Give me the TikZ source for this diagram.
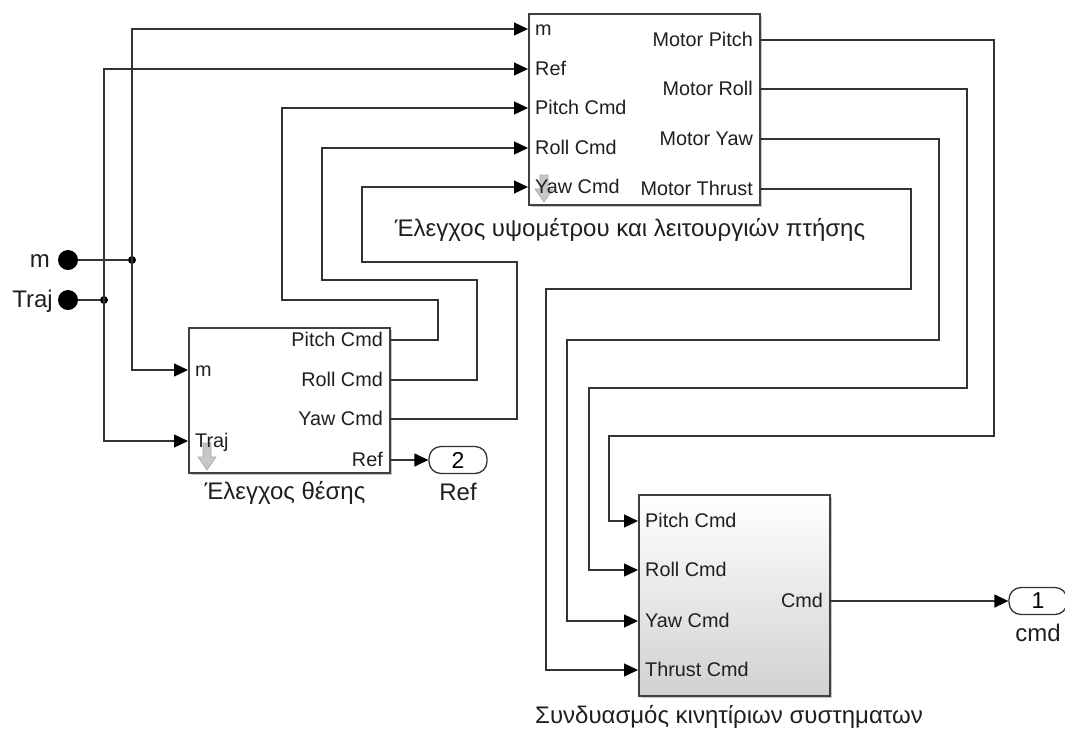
\documentclass[tikz,border=0pt]{standalone}
\usepackage{fontspec}
\setmainfont{Liberation Sans}
\usetikzlibrary{arrows.meta}
\begin{document}
\begin{tikzpicture}[x=1pt,y=-1pt,
  wire/.style={line width=1.3pt, draw=black!80},
  sig/.style={wire, -{Triangle[length=14pt,width=13pt,fill=black,color=black]}},
  block/.style={draw=black!75, line width=1.5pt, fill=white, inner sep=0pt},
  gradblock/.style={draw=black!75, line width=1.5pt, top color=white, bottom color=black!18, inner sep=0pt},
  shadowbox/.style={fill=black!22},
  plbl/.style={font=\fontsize{19.8}{22}\selectfont, text=black!88, inner sep=0pt},
  captext/.style={font=\fontsize{24}{26}\selectfont, text=black!88, inner sep=0pt, anchor=base},
  outport/.style={draw=black!80, line width=1.3pt, fill=white, rounded corners=12pt, minimum width=58pt, minimum height=27pt, inner sep=0pt, font=\fontsize{23}{25}\selectfont},
  inport/.style={circle, fill=black, minimum size=20pt, inner sep=0pt},
  junc/.style={circle, fill=black, minimum size=8pt, inner sep=0pt},
  subsys/.style={fill=black!22, draw=black!35, line width=0.6pt}
]
\useasboundingbox (0,0) rectangle (1065,729);

% ---------- block shadows ----------
\fill[shadowbox] (531,16) rectangle (762,207);
\fill[shadowbox] (191,330) rectangle (392,475);
\fill[shadowbox] (641,497) rectangle (832,698);

% ---------- blocks ----------
\node[block, minimum width=231pt, minimum height=191pt, anchor=north west] (ctl) at (528,13) {};
\node[block, minimum width=201pt, minimum height=145pt, anchor=north west] (pos) at (188,327) {};
\node[gradblock, minimum width=191pt, minimum height=201pt, anchor=north west] (mix) at (638,494) {};

% subsystem icons
\fill[subsys] (540,175) -- (548,175) -- (548,189) -- (553,189) -- (544,202) -- (535,189) -- (540,189) -- cycle;
\fill[subsys] (203,443) -- (211,443) -- (211,457) -- (216,457) -- (207,470) -- (198,457) -- (203,457) -- cycle;

% ---------- port coordinates ----------
\coordinate (ctl-i1) at (528,29);
\coordinate (ctl-i2) at (528,69);
\coordinate (ctl-i3) at (528,108);
\coordinate (ctl-i4) at (528,148);
\coordinate (ctl-i5) at (528,187);
\coordinate (ctl-o1) at (759,40);
\coordinate (ctl-o2) at (759,89);
\coordinate (ctl-o3) at (759,139);
\coordinate (ctl-o4) at (759,189);

\coordinate (pos-i1) at (188,370);
\coordinate (pos-i2) at (188,441);
\coordinate (pos-o1) at (389,340);
\coordinate (pos-o2) at (389,380);
\coordinate (pos-o3) at (389,419);
\coordinate (pos-o4) at (389,460);

\coordinate (mix-i1) at (638,521);
\coordinate (mix-i2) at (638,570);
\coordinate (mix-i3) at (638,621);
\coordinate (mix-i4) at (638,670);
\coordinate (mix-o1) at (829,601);

% ---------- port labels ----------
\begin{scope}[every node/.append style={plbl}]
\node[anchor=base west] at ([xshift=7pt,yshift=-6.5pt]ctl-i1) {m};
\node[anchor=base west] at ([xshift=7pt,yshift=-6.5pt]ctl-i2) {Ref};
\node[anchor=base west] at ([xshift=7pt,yshift=-6.5pt]ctl-i3) {Pitch Cmd};
\node[anchor=base west] at ([xshift=7pt,yshift=-6.5pt]ctl-i4) {Roll Cmd};
\node[anchor=base west] at ([xshift=7pt,yshift=-6.5pt]ctl-i5) {Yaw Cmd};
\node[anchor=base east] at ([xshift=-6pt,yshift=-6.5pt]ctl-o1) {Motor Pitch};
\node[anchor=base east] at ([xshift=-6pt,yshift=-6.5pt]ctl-o2) {Motor Roll};
\node[anchor=base east] at ([xshift=-6pt,yshift=-6.5pt]ctl-o3) {Motor Yaw};
\node[anchor=base east] at ([xshift=-6pt,yshift=-6.5pt]ctl-o4) {Motor Thrust};

\node[anchor=base west] at ([xshift=7pt,yshift=-6.5pt]pos-i1) {m};
\node[anchor=base west] at ([xshift=7pt,yshift=-6.5pt]pos-i2) {Traj};
\node[anchor=base east] at ([xshift=-6pt,yshift=-6.5pt]pos-o1) {Pitch Cmd};
\node[anchor=base east] at ([xshift=-6pt,yshift=-6.5pt]pos-o2) {Roll Cmd};
\node[anchor=base east] at ([xshift=-6pt,yshift=-6.5pt]pos-o3) {Yaw Cmd};
\node[anchor=base east] at ([xshift=-6pt,yshift=-6.5pt]pos-o4) {Ref};

\node[anchor=base west] at ([xshift=7pt,yshift=-6.5pt]mix-i1) {Pitch Cmd};
\node[anchor=base west] at ([xshift=7pt,yshift=-6.5pt]mix-i2) {Roll Cmd};
\node[anchor=base west] at ([xshift=7pt,yshift=-6.5pt]mix-i3) {Yaw Cmd};
\node[anchor=base west] at ([xshift=7pt,yshift=-6.5pt]mix-i4) {Thrust Cmd};
\node[anchor=base east] at ([xshift=-6pt,yshift=-6.5pt]mix-o1) {Cmd};
\end{scope}

% ---------- captions ----------
\node[captext] (ctlcap) at (630,236) {Έλεγχος υψομέτρου και λειτουργιών πτήσης};
\node[captext] (poscap) at (285,499) {Έλεγχος θέσης};
\node[captext] (mixcap) at (729,723) {Συνδυασμός κινητίριων συστηματων};

% ---------- inports / outports ----------
\node[inport] (inm) at (68,260) {};
\node[inport] (intraj) at (68,300) {};
\node[captext, anchor=base east] at (50,267) {m};
\node[captext, anchor=base east] at (53,307) {Traj};

\node[outport] (out2) at (458,460) {2};
\node[captext] at (458,500) {Ref};
\node[outport] (out1) at (1038,601) {1};
\node[captext] at (1038,641) {cmd};

% ---------- junctions ----------
\node[junc] (jm) at (132,260) {};
\node[junc] (jt) at (104,300) {};

% ---------- wires ----------
\draw[wire] (inm) -- (jm);
\draw[wire] (intraj) -- (jt);
\draw[sig] (jm.center) -- (132,29) -- (ctl-i1);
\draw[sig] (jm.center) -- (132,370) -- (pos-i1);
\draw[sig] (jt.center) -- (104,69) -- (ctl-i2);
\draw[sig] (jt.center) -- (104,441) -- (pos-i2);

\draw[sig] (pos-o1) -- (438,340) -- (438,300) -- (282,300) -- (282,108) -- (ctl-i3);
\draw[sig] (pos-o2) -- (477,380) -- (477,280) -- (322,280) -- (322,148) -- (ctl-i4);
\draw[sig] (pos-o3) -- (517,419) -- (517,262) -- (362,262) -- (362,187) -- (ctl-i5);
\draw[sig] (pos-o4) -- (out2.west);

\draw[sig] (ctl-o1) -- (994,40) -- (994,436) -- (609,436) -- (609,521) -- (mix-i1);
\draw[sig] (ctl-o2) -- (967,89) -- (967,388) -- (589,388) -- (589,570) -- (mix-i2);
\draw[sig] (ctl-o3) -- (939,139) -- (939,340) -- (567,340) -- (567,621) -- (mix-i3);
\draw[sig] (ctl-o4) -- (911,189) -- (911,289) -- (546,289) -- (546,670) -- (mix-i4);
\draw[sig] (mix-o1) -- (out1.west);
\end{tikzpicture}
\end{document}
